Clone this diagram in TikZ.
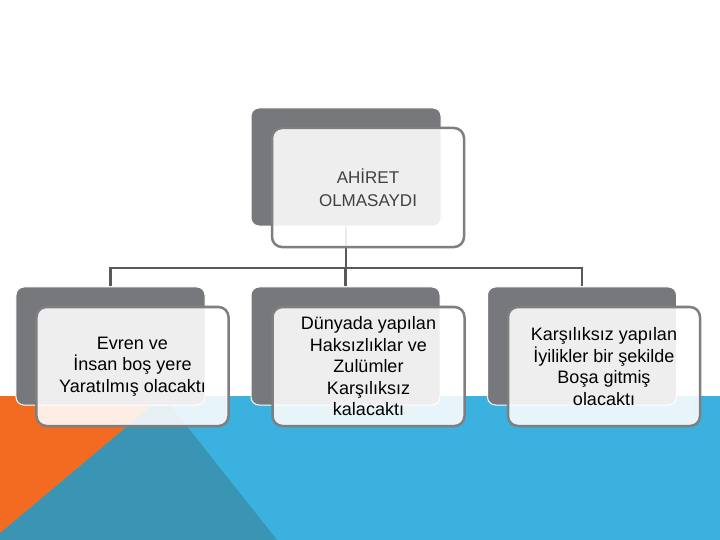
\documentclass[tikz,border=0pt]{standalone}
\usepackage{fontspec}
\setmainfont{Liberation Sans}
\definecolor{bgblue}{HTML}{3AB1DF}
\definecolor{bgteal}{HTML}{3A94B4}
\definecolor{bgorange}{HTML}{F26B21}
\definecolor{backgray}{HTML}{77787B}
\definecolor{edgegray}{HTML}{7F7F7F}
\definecolor{linegray}{HTML}{595959}
\definecolor{toptext}{HTML}{404040}
\tikzset{
  backbox/.style={rectangle, rounded corners=8bp, fill=backgray, draw=white, line width=1bp,
    minimum width=189bp, minimum height=118bp, inner sep=0pt},
  frontbox/.style={rectangle, rounded corners=10bp, fill=white, fill opacity=0.88, text opacity=1,
    draw=edgegray, line width=2.5bp, minimum width=192bp, minimum height=119bp, inner sep=0pt,
    align=center, font=\fontsize{18bp}{21.5bp}\selectfont, text=black},
  conn/.style={draw=linegray, line width=2.5bp}
}
\begin{document}
\begin{tikzpicture}[x=1bp,y=-1bp]
\useasboundingbox (0,0) rectangle (720,540);
% background
\fill[white] (0,0) rectangle (720,540);
\fill[bgblue] (0,396) rectangle (720,540);
\fill[bgteal] (163,396) -- (277,540) -- (0,540) -- (0,533) -- cycle;
\fill[bgorange] (0,396) -- (163,396) -- (0,533) -- cycle;
% back boxes
\node[backbox, minimum width=190bp] (tb) at (346,167) {};
\node[backbox] (c1) at (110.5,346) {};
\node[backbox] (c2) at (345.5,346) {};
\node[backbox] (c3) at (582,346) {};
% connectors
\coordinate (j) at (346,268);
\draw[conn] (tb.south) -- (j);
\draw[conn] (c1.north) |- (j) -| (c3.north);
\draw[conn] (c2.north) -- (c2.north |- j);
% front boxes
\node[frontbox, text=toptext, font=\fontsize{17bp}{23bp}\selectfont] (t) at (368,187.5) {AHİRET\\OLMASAYDI};
\node[frontbox] (f1) at (132.5,366.5) {Evren ve\\İnsan boş yere\\Yaratılmış olacaktı};
\node[frontbox] (f2) at (368.5,366.5) {Dünyada yapılan\\Haksızlıklar ve\\Zulümler\\Karşılıksız\\kalacaktı};
\node[frontbox] (f3) at (604,366.5) {Karşılıksız yapılan\\İyilikler bir şekilde\\Boşa gitmiş\\olacaktı};
\end{tikzpicture}
\end{document}
